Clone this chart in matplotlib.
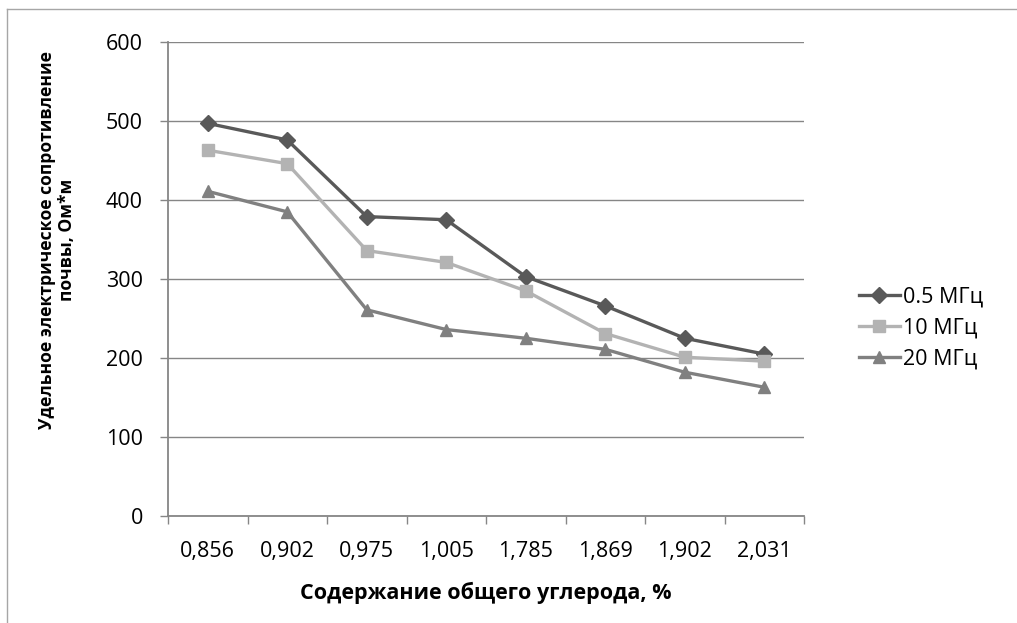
import matplotlib
matplotlib.use("Agg")
from matplotlib import pyplot as plt
from matplotlib.lines import Line2D
from matplotlib.ticker import MultipleLocator

plt.rcParams['font.family'] = ['Open Sans', 'DejaVu Sans']

# data
carbon = ['0,856', '0,902', '0,975', '1,005', '1,785', '1,869', '1,902', '2,031']
r_05 = [497, 476, 379, 375, 303, 266, 225, 205]
r_10 = [463, 446, 336, 321, 285, 231, 201, 196]
r_20 = [411, 385, 261, 236, 225, 211, 182, 163]
series_names = ['0.5 МГц', '10 МГц', '20 МГц']
y_ticks = [0, 100, 200, 300, 400, 500, 600]

W, H = 1017, 623
fig = plt.figure(figsize=(W / 100, H / 100), dpi=100)
ax = fig.add_axes([168 / W, 1 - 516 / H, 636 / W, 474 / H])

fs = 15.5
x = list(range(len(carbon)))
line_kw = dict(lw=2.4, zorder=3)
ax.plot(x, r_05, marker='D', ms=8, color='#595959', label=series_names[0], **line_kw)
ax.plot(x, r_10, marker='s', ms=8, color='#b3b3b3', label=series_names[1], **line_kw)
ax.plot(x, r_20, marker='^', ms=9, color='#808080', label=series_names[2], **line_kw)

grid_c = '#868686'
ax.set_xlim(-0.5, len(carbon) - 0.5)
ax.set_ylim(0, 600)
ax.set_yticks(y_ticks)
ax.set_xticks(x)
ax.set_xticklabels(carbon)
ax.xaxis.set_minor_locator(MultipleLocator(1, offset=0.5))
ax.tick_params(axis='x', which='major', length=0, pad=18, labelsize=fs)
ax.tick_params(axis='x', which='minor', length=6, width=1, color=grid_c)
ax.tick_params(axis='y', length=6, width=1, color=grid_c, pad=12, labelsize=fs)
ax.yaxis.grid(True, color=grid_c, lw=1)
ax.set_axisbelow(True)
for s in ['top', 'right']:
    ax.spines[s].set_visible(False)
for s in ['left', 'bottom']:
    ax.spines[s].set_color(grid_c)
    ax.spines[s].set_linewidth(1.3)

fig.text(486 / W, 1 - 593 / H, 'Содержание общего углерода, %',
         ha='center', va='center', fontsize=fs, fontweight='bold')
fig.text(57 / W, 1 - 240 / H, 'Удельное электрическое сопротивление\nпочвы, Ом*м',
         ha='center', va='center', rotation=90, fontsize=12.6, fontweight='bold',
         linespacing=1.1)

ax.legend(loc='center left', bbox_to_anchor=(848 / W, 1 - 328 / H),
          bbox_transform=fig.transFigure, frameon=False, fontsize=fs,
          handlelength=1.9, handletextpad=0.15, labelspacing=0.45, borderpad=0)

# thin chart-area border (top and left edges visible)
border_c = '#a6a6a6'
fig.add_artist(Line2D([7 / W, 1], [1 - 9 / H, 1 - 9 / H], color=border_c, lw=1,
                      transform=fig.transFigure))
fig.add_artist(Line2D([7 / W, 7 / W], [0, 1 - 9 / H], color=border_c, lw=1,
                      transform=fig.transFigure))

fig.savefig('out.png', dpi=100)
